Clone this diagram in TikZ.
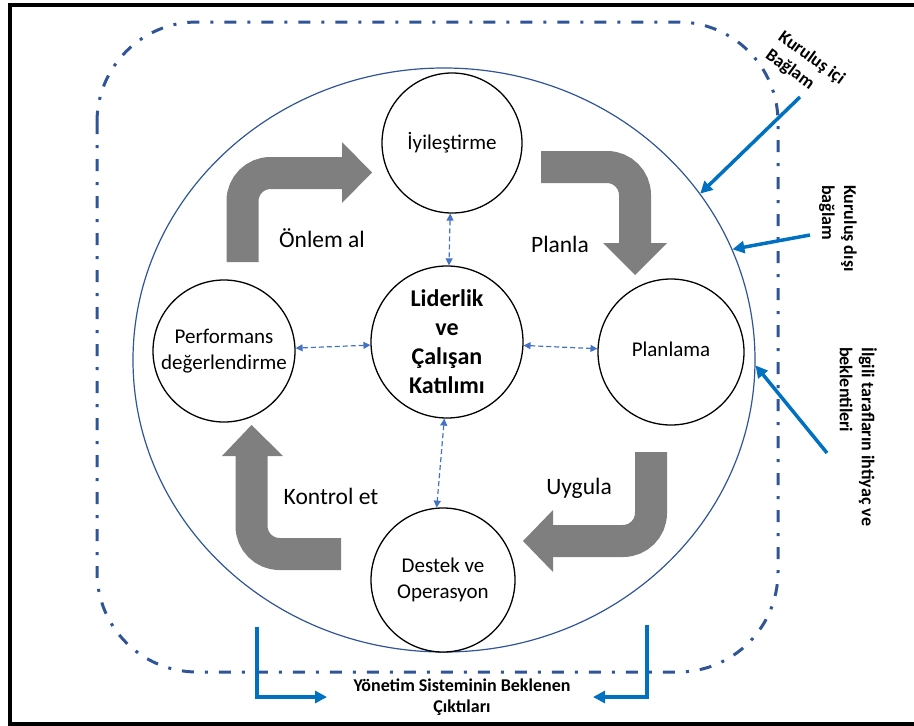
\documentclass[tikz,border=0pt]{standalone}
\usepackage{fontspec}
\setmainfont{Carlito}
\usetikzlibrary{arrows.meta,shapes.geometric}
\definecolor{frameblue}{RGB}{47,85,151}
\definecolor{arrblue}{RGB}{0,112,192}
\definecolor{dashblue}{RGB}{68,114,196}
\definecolor{arrgray}{RGB}{127,127,127}
\newcommand{\liftlines}[2]{\raisebox{#1}{\begin{tabular}{@{}c@{}}#2\end{tabular}}}
\begin{document}
\begin{tikzpicture}[x=1pt,y=-1pt,
  proc/.style={circle,draw,line width=1.3pt,fill=white,inner sep=0pt,align=center,font=\fontsize{21}{26}\selectfont},
  cyc/.style={font=\fontsize{23.5}{28}\selectfont,inner sep=0pt},
  link/.style={dashblue,line width=1.2pt,dash pattern=on 5pt off 3pt,{Triangle[length=7pt,width=7pt]}-{Triangle[length=7pt,width=7pt]}},
  bigarrow/.style={arrgray,line width=32pt,rounded corners=28pt},
  headfill/.style={fill=arrgray},
  ctx/.style={font=\bfseries\fontsize{18}{22}\selectfont,inner sep=0pt,align=left},
  inarrow/.style={arrblue,line width=3.5pt,-{Triangle[length=12pt,width=12pt]}}
]
\useasboundingbox (0,0) rectangle (914,726);
% outer frame
\draw[line width=4pt] (918,4.5) -- (9.5,4.5) -- (9.5,723.5) -- (918,723.5);
% dash-dot context boundary
\draw[frameblue,line width=3pt,dash pattern=on 12pt off 11pt on 3pt off 11pt,rounded corners=100pt] (97,22) rectangle (778,672);
% big ellipse
\node[ellipse,draw=frameblue,line width=1.2pt,minimum width=622pt,minimum height=584pt,inner sep=0pt] (ell) at (444,360) {};
% gray cycle arrows
\draw[bigarrow] (242.5,262) -- (242.5,173) -- (342,173);
\fill[headfill] (342,142) -- (372,172.5) -- (342,203) -- cycle;
\draw[bigarrow] (541,167) -- (635,167) -- (635,243);
\fill[headfill] (603,243) -- (667,243) -- (635,275) -- cycle;
\draw[bigarrow] (651,452) -- (651,541) -- (553,541);
\fill[headfill] (553,510) -- (523,541) -- (553,572) -- cycle;
\draw[bigarrow] (341,554) -- (251.5,554) -- (251.5,456);
\fill[headfill] (222,456) -- (251.5,425) -- (283,456) -- cycle;
% cycle labels
\node[cyc] (onlem) at (322,238) {Önlem al};
\node[cyc] (planla) at (560,244) {Planla};
\node[cyc] (uygula) at (579,488) {Uygula};
\node[cyc] (kontrol) at (331,496) {Kontrol et};
% process circles
\node[proc,minimum size=140pt] (iy) at (452,143) {\raisebox{3pt}{İyileştirme}};
\node[proc,minimum size=146pt] (plan) at (671,352) {\raisebox{6pt}{Planlama}};
\node[proc,minimum size=142pt] (perf) at (224,351) {\liftlines{5pt}{Performans\\değerlendirme}};
\node[proc,minimum size=144pt] (des) at (443,580) {Destek ve\\Operasyon};
\node[proc,minimum size=152pt,font=\bfseries\fontsize{24}{29}\selectfont] (lid) at (447,342) {Liderlik\\ve\\Çalışan\\Katılımı};
% dashed links
\draw[link] (iy) -- (lid);
\draw[link] (lid) -- (perf);
\draw[link] (lid) -- (plan);
\draw[link] (lid.-92) -- (des.95);
% context labels
\node[ctx,rotate=-36] (ic) at (805,67) {Kuruluş içi\\Bağlam};
\node[ctx,rotate=-90,anchor=north west] (dis) at (857,185) {Kuruluş dışı\\bağlam};
\node[ctx,rotate=-90,anchor=north west] (ilg) at (877,347) {İlgili tarafların ihtiyaç ve\\beklentileri};
\node[ctx,align=center,font=\bfseries\fontsize{18}{21}\selectfont] (out) at (462,697) {Yönetim Sisteminin Beklenen\\Çıktıları};
% context arrows
\coordinate (a1) at (800,97);
\coordinate (a2) at (810,235);
\coordinate (a3) at (827,453);
\draw[inarrow] (a1) -- (ell.33);
\draw[inarrow] (a2) -- (ell.21);
\draw[inarrow] (a3) -- (ell.-1);
% output arrows
\coordinate (b1) at (257,627);
\coordinate (b1t) at (327,697);
\coordinate (b2) at (647,625);
\coordinate (b2t) at (593,697);
\draw[inarrow] (b1) |- (b1t);
\draw[inarrow] (b2) |- (b2t);
\end{tikzpicture}
\end{document}
